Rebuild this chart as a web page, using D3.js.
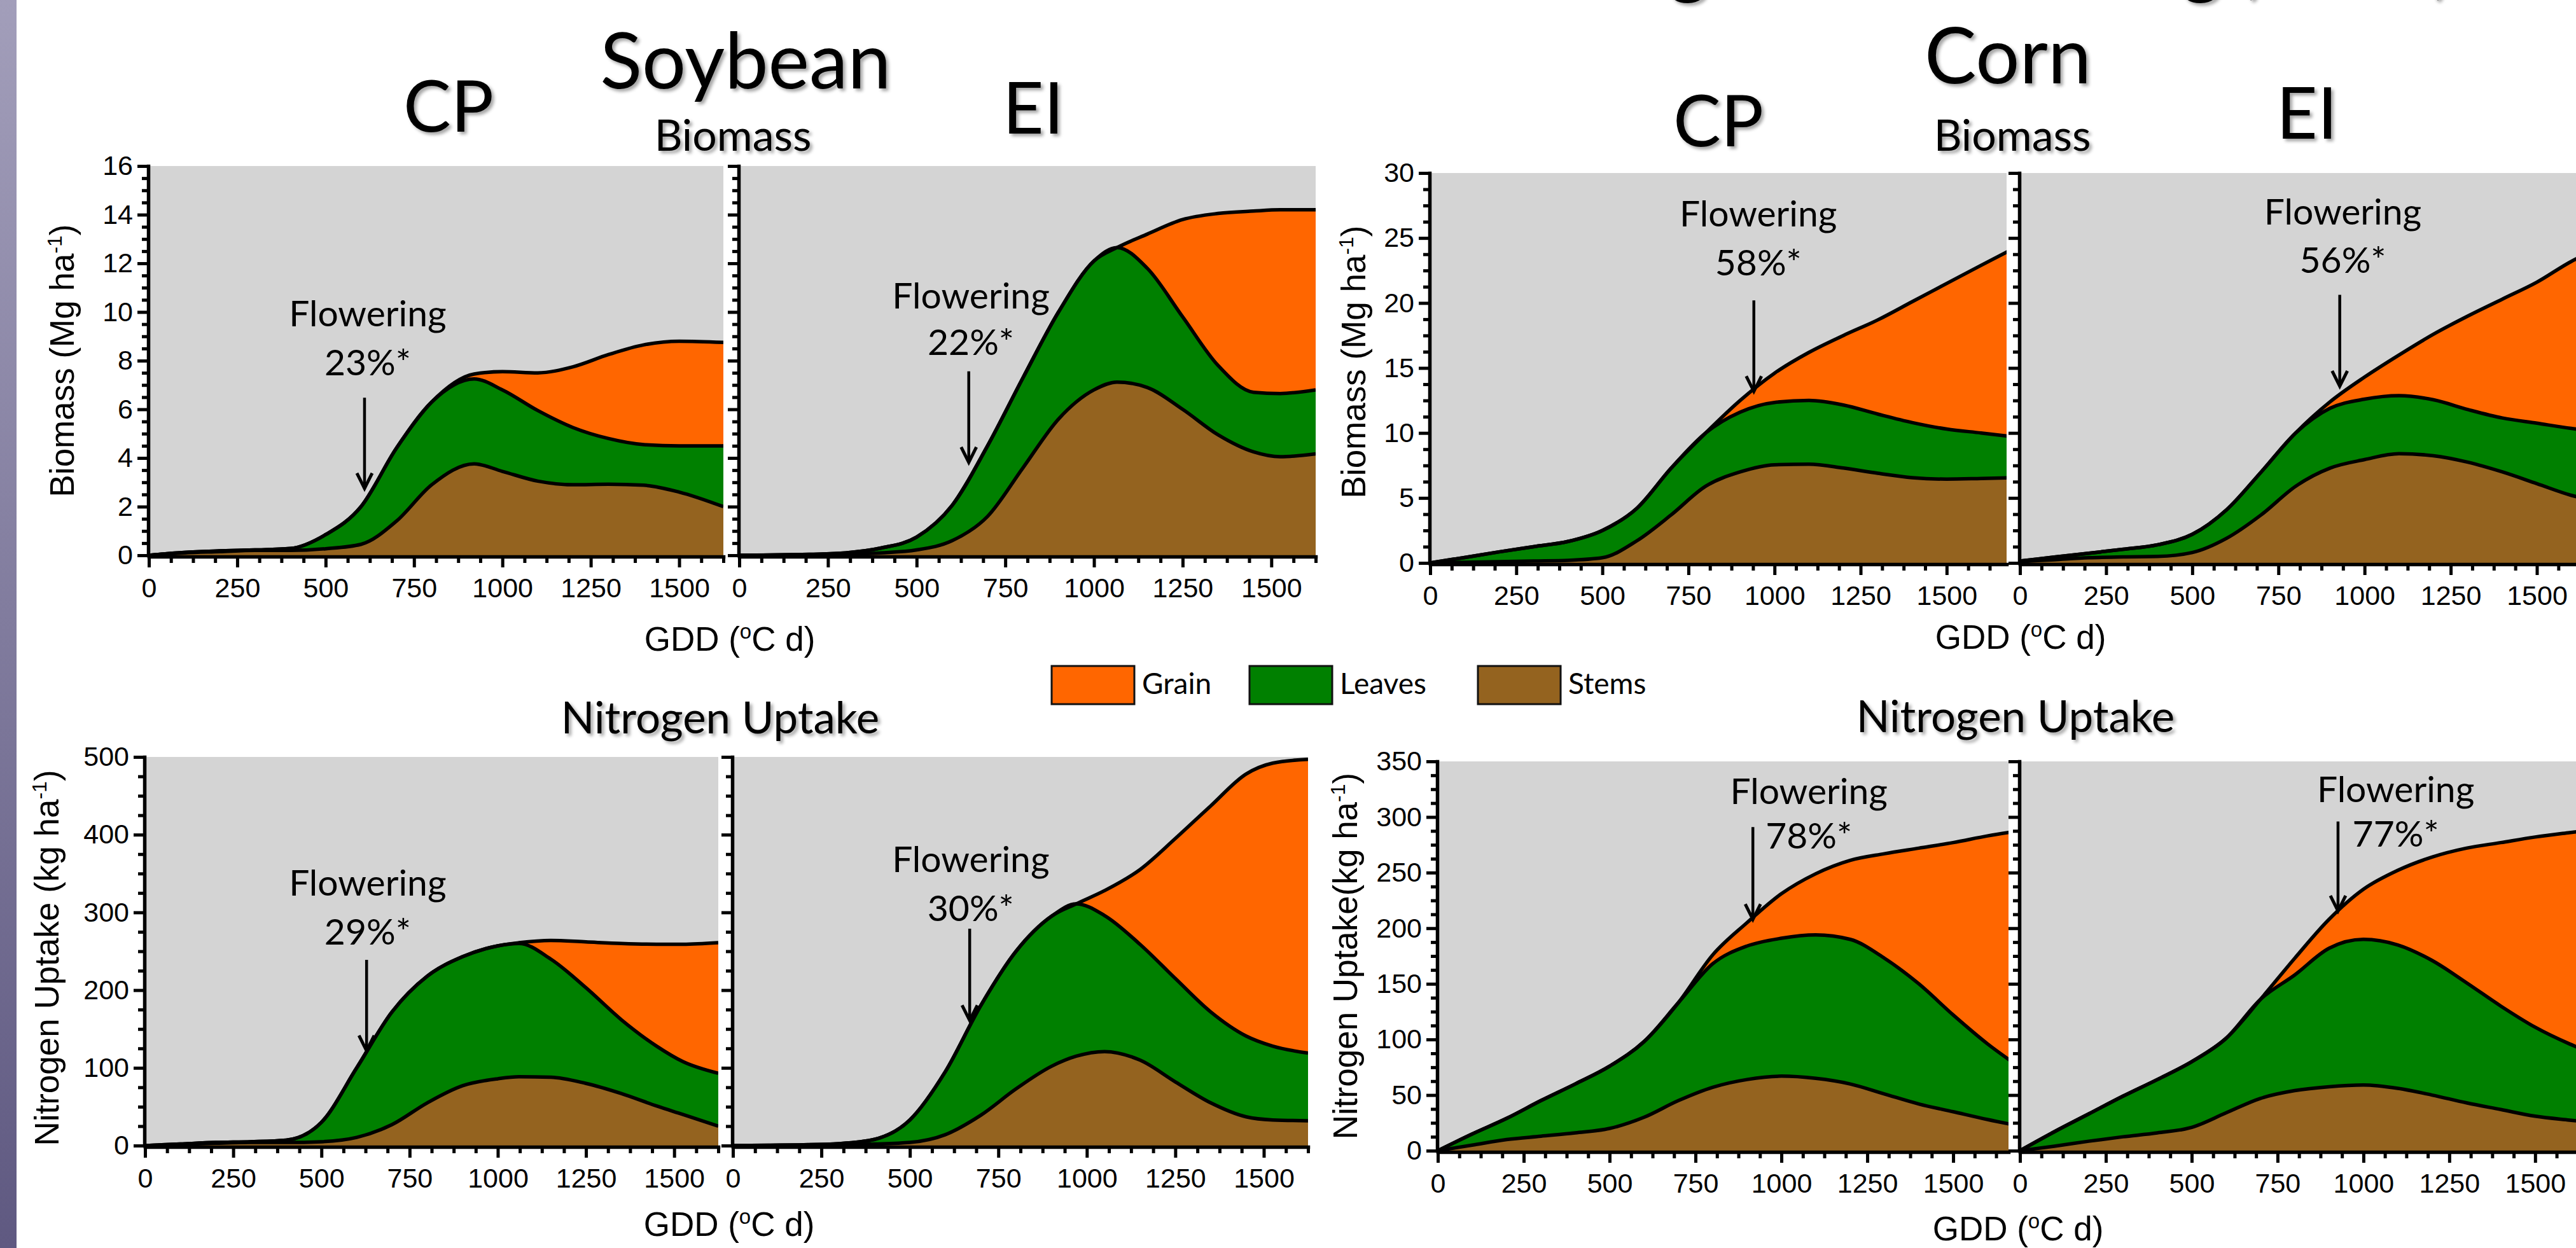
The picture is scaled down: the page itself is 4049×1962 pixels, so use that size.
<!DOCTYPE html>
<html><head><meta charset="utf-8">
<script src="https://cdn.jsdelivr.net/npm/d3@7"></script>
<style>body{margin:0;background:#fff;overflow:hidden}svg{display:block}</style>
</head><body>
<svg id="c" width="4049" height="1962"></svg>
<script>
// ---------------- DATA ----------------
const components = ["Stems", "Leaves", "Grain"];
const xTickLabels = [0, 250, 500, 750, 1000, 1250, 1500];

// Soybean biomass, CP (Mg/ha)
const soyBioCP_gdd    = [0,100,200,300,400,500,600,700,800,920,1000,1100,1200,1300,1400,1500,1625];
const soyBioCP_stems  = [0,0.1,0.15,0.2,0.2,0.27,0.45,1.4,2.9,3.76,3.45,3.05,2.9,2.92,2.88,2.6,2.0];
const soyBioCP_leaves = [0,0.02,0.03,0.02,0.08,0.58,1.55,3.0,3.4,3.49,3.35,2.9,2.35,1.88,1.67,1.9,2.5];
const soyBioCP_grain  = [0,0,0,0,0,0,0,0,0,0.2,0.75,1.55,2.5,3.45,4.1,4.3,4.25];

// Soybean biomass, EI
const soyBioEI_gdd    = [0,100,200,300,400,500,600,700,800,900,1000,1065,1150,1250,1350,1450,1525,1625];
const soyBioEI_stems  = [0,0.01,0.02,0.04,0.1,0.22,0.6,1.6,3.6,5.6,6.8,7.12,6.9,6.0,4.95,4.25,4.05,4.17];
const soyBioEI_leaves = [0,0,0.02,0.06,0.2,0.53,1.45,2.9,3.7,4.4,5.3,5.53,4.9,3.8,2.85,2.45,2.6,2.63];
const soyBioEI_grain  = [0,0,0,0,0,0,0,0,0,0,0,0,1.4,4.0,6.25,7.45,7.55,7.4];

// Corn biomass, CP
const cornBioCP_gdd    = [0,100,200,300,400,500,600,700,800,900,1000,1100,1200,1300,1400,1500,1600,1680];
const cornBioCP_stems  = [0,0.05,0.1,0.15,0.2,0.4,1.7,3.7,5.9,7.0,7.55,7.6,7.3,6.9,6.56,6.45,6.5,6.55];
const cornBioCP_leaves = [0,0.37,0.75,1.1,1.45,2.1,2.5,3.6,4.1,4.6,4.8,4.9,4.85,4.55,4.24,3.85,3.5,3.2];
const cornBioCP_grain  = [0,0,0,0,0,0,0,0,0,0.9,2.25,3.7,5.35,7.25,9.3,11.2,12.9,14.25];

// Corn biomass, EI
const cornBioEI_gdd    = [0,100,200,300,400,500,600,700,800,900,1000,1100,1200,1300,1400,1500,1600,1680];
const cornBioEI_stems  = [0.1,0.25,0.4,0.47,0.5,0.8,1.9,3.7,5.9,7.3,7.95,8.4,8.25,7.75,7.0,6.1,5.2,4.7];
const cornBioEI_leaves = [0.05,0.2,0.35,0.58,0.9,1.4,2.2,3.3,4.1,4.6,4.65,4.47,4.3,4.05,4.15,4.65,5.15,5.4];
const cornBioEI_grain  = [0,0,0,0,0,0,0,0,0,0.5,1.7,3.13,5.05,7.2,9.15,10.85,12.85,14.1];

// Soybean N uptake, CP (kg/ha)
const soyNCP_gdd    = [0,100,200,300,400,500,600,700,800,900,1000,1060,1150,1250,1350,1450,1525,1625];
const soyNCP_stems  = [0,1.5,3,4,4,5,10.5,27,55,77,86,88.5,88,80,67,51,40,25];
const soyNCP_leaves = [0,0.5,1,1,3,25,89.5,145,163,166,171,171.5,152,123,95,77,68,68];
const soyNCP_grain  = [0,0,0,0,0,0,0,0,0,0,0,1,24,59,98,131,151,168];

// Soybean N uptake, EI
const soyNEI_gdd    = [0,100,200,300,400,500,600,700,800,900,970,1050,1150,1250,1350,1450,1525,1625];
const soyNEI_stems  = [0,0,0.5,1,2,4,14,39,73,102,115,121,110,82,55,37,33,32];
const soyNEI_leaves = [0,0.5,0.5,1.5,6,29,81,141,177,193,196,175,149,133,117,104,95,87];
const soyNEI_grain  = [0,0,0,0,0,0,0,0,0,0,0,32,96,180,265,337,364,378];

// Corn N uptake, CP
const cornNCP_gdd    = [0,100,200,300,400,500,600,700,800,900,1000,1100,1200,1300,1400,1500,1600,1680];
const cornNCP_stems  = [0,5,10,13,16,20,30,45,57,64,67,65,60,51,42,35,28,23];
const cornNCP_leaves = [0,10,19,32,44,56,68,88,111,120,124,129,130,122,108,87,68,55];
const cornNCP_grain  = [0,0,0,0,0,0,0,0,8,21,40,55,71,94,122,155,187,209];

// Corn N uptake, EI
const cornNEI_gdd    = [0,100,200,300,400,500,600,700,800,900,1000,1100,1200,1300,1400,1500,1600,1680];
const cornNEI_stems  = [0,4,8.5,12.5,16,21,34,47,54,57.5,59,56,50,43,37,31,27.5,25];
const cornNEI_leaves = [0,13,24.5,36.5,48,59,67,89,104,124.5,131,129,121,108,93,80,68.5,61];
const cornNEI_grain  = [0,0,0,0,0,0,0,0,15,26,45,67,93,121,147,171,190,203];

// Flowering annotations: GDD of flowering, arrow tip/top values, label
const flowerGdd  = [610, 647, 628, 669, 940, 928, 917, 926];
const flowerTip  = [2.75, 3.82, 122, 161, 13.2, 13.6, 208, 215.5];
const flowerTop  = [6.48, 7.56, 239, 279, 20.2, 20.63, 291, 296];
const flowerPct  = ["23%*", "22%*", "29%*", "30%*", "58%*", "56%*", "78%*", "77%*"];

// ---------------- LAYOUT ----------------
const colors = {Stems: "#94631f", Leaves: "#008000", Grain: "#ff6600"};
const svg = d3.select("#c");
const defs = svg.append("defs");

const grad = defs.append("linearGradient").attr("id", "strip").attr("x1", 0).attr("y1", 0).attr("x2", 0).attr("y2", 1);
grad.append("stop").attr("offset", "0%").attr("stop-color", "#a29eba");
grad.append("stop").attr("offset", "100%").attr("stop-color", "#5f5981");
svg.append("rect").attr("x", 0).attr("y", 0).attr("width", 26).attr("height", 1962).attr("fill", "url(#strip)");

const flt = defs.append("filter").attr("id", "sh").attr("x", "-10%").attr("y", "-20%").attr("width", "130%").attr("height", "150%");
flt.append("feDropShadow").attr("dx", 4).attr("dy", 4).attr("stdDeviation", 2.5)
  .attr("flood-color", "#000").attr("flood-opacity", 0.35);

const panels = [
  {id:"sbcp", gdd:soyBioCP_gdd, s:soyBioCP_stems, l:soyBioCP_leaves, g:soyBioCP_grain,
   x0:234, x1:1137, xMax:1625, y0:873, y1:261, yMax:16, yStep:2, yLab:true, a:0, tx:619, v1:9.41, v2:7.40},
  {id:"sbei", gdd:soyBioEI_gdd, s:soyBioEI_stems, l:soyBioEI_leaves, g:soyBioEI_grain,
   x0:1162, x1:2068, xMax:1625, y0:873, y1:261, yMax:16, yStep:2, yLab:false, a:1, tx:653, v1:10.14, v2:8.24},
  {id:"sncp", gdd:soyNCP_gdd, s:soyNCP_stems, l:soyNCP_leaves, g:soyNCP_grain,
   x0:228, x1:1129, xMax:1625, y0:1801, y1:1190, yMax:500, yStep:100, yLab:true, a:2, tx:631, v1:321.6, v2:258.6},
  {id:"snei", gdd:soyNEI_gdd, s:soyNEI_stems, l:soyNEI_leaves, g:soyNEI_grain,
   x0:1152, x1:2056, xMax:1625, y0:1801, y1:1190, yMax:500, yStep:100, yLab:false, a:3, tx:672, v1:351.9, v2:288.9},
  {id:"cbcp", gdd:cornBioCP_gdd, s:cornBioCP_stems, l:cornBioCP_leaves, g:cornBioCP_grain,
   x0:2248, x1:3154, xMax:1674, y0:885, y1:272, yMax:30, yStep:5, yLab:true, a:4, tx:953, v1:25.9, v2:22.1},
  {id:"cbei", gdd:cornBioEI_gdd, s:cornBioEI_stems, l:cornBioEI_leaves, g:cornBioEI_grain,
   x0:3175, x1:4085, xMax:1680, y0:885, y1:272, yMax:30, yStep:5, yLab:false, a:5, tx:937, v1:26.05, v2:22.34},
  {id:"cncp", gdd:cornNCP_gdd, s:cornNCP_stems, l:cornNCP_leaves, g:cornNCP_grain,
   x0:2260, x1:3157, xMax:1661, y0:1809, y1:1197, yMax:350, yStep:50, yLab:true, a:6, tx:1080, v1:311.6, v2:271.6},
  {id:"cnei", gdd:cornNEI_gdd, s:cornNEI_stems, l:cornNEI_leaves, g:cornNEI_grain,
   x0:3175, x1:4082, xMax:1680, y0:1809, y1:1197, yMax:350, yStep:50, yLab:false, a:7, tx:1094, v1:313.3, v2:273.3}
];

function styleAxis(ax, w) {
  ax.attr("font-family", "'Liberation Sans', Arial, sans-serif").attr("font-size", 43);
  ax.selectAll("path.domain").attr("stroke", "#000").attr("stroke-width", 5.5).attr("stroke-linecap", "square");
  ax.selectAll(".tick line").attr("stroke", "#000").attr("stroke-width", w);
  ax.selectAll(".tick text").attr("fill", "#000");
}

panels.forEach(p => {
  const x = d3.scaleLinear().domain([0, p.xMax]).range([p.x0, p.x1]);
  const y = d3.scaleLinear().domain([0, p.yMax]).range([p.y0, p.y1]);
  const g = svg.append("g");
  g.append("rect").attr("x", p.x0).attr("y", p.y1).attr("width", p.x1 - p.x0)
    .attr("height", p.y0 - p.y1).attr("fill", "#d4d4d4");
  defs.append("clipPath").attr("id", "cl-" + p.id).append("rect")
    .attr("x", p.x0).attr("y", p.y1 - 20).attr("width", p.x1 - p.x0).attr("height", p.y0 - p.y1 + 20);

  const rows = p.gdd.map((d, i) => ({gdd: d, Stems: p.s[i], Leaves: p.l[i], Grain: p.g[i]}));
  const series = d3.stack().keys(components)(rows);
  const area = d3.area().x(d => x(d.data.gdd)).y0(d => y(d[0])).y1(d => y(d[1])).curve(d3.curveMonotoneX);
  const line = d3.line().x(d => x(d.data.gdd)).y(d => y(d[1])).curve(d3.curveMonotoneX);
  const cg = g.append("g").attr("clip-path", `url(#cl-${p.id})`);
  cg.selectAll("path.area").data(series).join("path").attr("class", "area")
    .attr("d", area).attr("fill", d => colors[d.key]);
  cg.selectAll("path.edge").data(series).join("path").attr("class", "edge")
    .attr("d", line).attr("fill", "none").attr("stroke", "#000").attr("stroke-width", 5.5)
    .attr("stroke-linejoin", "round");

  // x axis
  const xMinor = d3.range(0, Math.floor(p.xMax / 62.5) + 1).filter(i => i % 4 !== 0).map(i => i * 62.5);
  const xa = g.append("g").attr("transform", `translate(0,${p.y0 + 2})`)
    .call(d3.axisBottom(x).tickValues(xTickLabels).tickSize(17).tickSizeOuter(0).tickPadding(16).tickFormat(d3.format("d")));
  styleAxis(xa, 5);
  const xm = g.append("g").attr("transform", `translate(0,${p.y0 + 2})`)
    .call(d3.axisBottom(x).tickValues(xMinor).tickSize(10).tickSizeOuter(0).tickFormat(""));
  xm.select("path.domain").remove();
  styleAxis(xm, 5);

  // y axis
  const nMaj = Math.round(p.yMax / p.yStep);
  const yMajor = d3.range(0, nMaj + 1).map(i => i * p.yStep);
  const yMinor = d3.range(0, nMaj * 4 + 1).filter(i => i % 4 !== 0).map(i => i * p.yStep / 4);
  const ya = g.append("g").attr("transform", `translate(${p.x0 - 1},0)`)
    .call(d3.axisLeft(y).tickValues(yMajor).tickSize(17).tickSizeOuter(0).tickPadding(7)
      .tickFormat(p.yLab ? d3.format("d") : ""));
  styleAxis(ya, 5);
  const ym = g.append("g").attr("transform", `translate(${p.x0 - 1},0)`)
    .call(d3.axisLeft(y).tickValues(yMinor).tickSize(10).tickSizeOuter(0).tickFormat(""));
  ym.select("path.domain").remove();
  styleAxis(ym, 5);

  // flowering annotation
  const k = p.a;
  const ax = x(flowerGdd[k]), top = y(flowerTop[k]), tip = y(flowerTip[k]);
  g.append("line").attr("x1", ax).attr("x2", ax).attr("y1", top).attr("y2", tip - 3)
    .attr("stroke", "#000").attr("stroke-width", 4.5);
  g.append("path").attr("d", `M${ax - 12},${tip - 24}L${ax},${tip}L${ax + 12},${tip - 24}`)
    .attr("fill", "none").attr("stroke", "#000").attr("stroke-width", 5).attr("stroke-linejoin", "miter");
  const ft = g.append("g").attr("font-family", "Lato, 'Open Sans', sans-serif").attr("font-size", 57)
    .attr("text-anchor", "middle").attr("fill", "#000");
  ft.append("text").attr("x", x(p.tx)).attr("y", y(p.v1)).text("Flowering");
  ft.append("text").attr("x", x(p.tx)).attr("y", y(p.v2)).text(flowerPct[k]);
});

// ---------- axis titles ----------
function gddTitle(cx, by) {
  const t = svg.append("text").attr("x", cx).attr("y", by).attr("text-anchor", "middle")
    .attr("font-family", "'Liberation Sans', Arial, sans-serif").attr("font-size", 53).attr("fill", "#000");
  t.append("tspan").text("GDD (");
  t.append("tspan").attr("font-size", 33).attr("dy", -19).text("o");
  t.append("tspan").attr("dy", 19).text("C d)");
}
gddTitle(1147, 1023);
gddTitle(3176, 1020);
gddTitle(1146, 1943);
gddTitle(3172, 1950);

function yTitle(bx, cy, main) {
  const t = svg.append("text").attr("transform", `translate(${bx},${cy}) rotate(-90)`)
    .attr("text-anchor", "middle").attr("font-family", "'Liberation Sans', Arial, sans-serif")
    .attr("font-size", 53).attr("fill", "#000");
  t.append("tspan").text(main);
  t.append("tspan").attr("font-size", 32).attr("dy", -19).text("-1");
  t.append("tspan").attr("dy", 19).text(")");
}
yTitle(116, 567, "Biomass (Mg ha");
yTitle(92, 1506, "Nitrogen Uptake (kg ha");
yTitle(2146, 569, "Biomass (Mg ha");
yTitle(2133, 1503, "Nitrogen Uptake(kg ha");

// ---------- headings (with drop shadow) ----------
const heads = svg.append("g").attr("filter", "url(#sh)").attr("font-family", "Lato, 'Open Sans', sans-serif")
  .attr("text-anchor", "middle").attr("fill", "#000");
[
  ["Soybean", 1172, 139, 122], ["CP", 705, 207, 112], ["EI", 1624, 210, 112], ["Biomass", 1152, 237, 68],
  ["Corn", 3156, 131, 122], ["CP", 2701, 230, 112], ["EI", 3626, 218, 112], ["Biomass", 3163, 237, 68],
  ["Nitrogen Uptake", 1132, 1153, 69], ["Nitrogen Uptake", 3168, 1151, 69],
  ["g", 2654, -17, 120], ["g", 3460, -17, 120], ["(", 3532, -17, 120], [")", 3838, -17, 120]
].forEach(([t, x, y, s]) => heads.append("text").attr("x", x).attr("y", y).attr("font-size", s).text(t));

// ---------- legend ----------
const legendOrder = ["Grain", "Leaves", "Stems"];
const legendX = [1653, 1964, 2323];
const lg = svg.append("g");
legendOrder.forEach((k, i) => {
  lg.append("rect").attr("x", legendX[i]).attr("y", 1047).attr("width", 130).attr("height", 60)
    .attr("fill", colors[k]).attr("stroke", "#111").attr("stroke-width", 3);
  lg.append("text").attr("x", legendX[i] + 142).attr("y", 1091).attr("font-family", "Lato, 'Open Sans', sans-serif")
    .attr("font-size", 46).attr("fill", "#000").text(k);
});
</script>
</body></html>
